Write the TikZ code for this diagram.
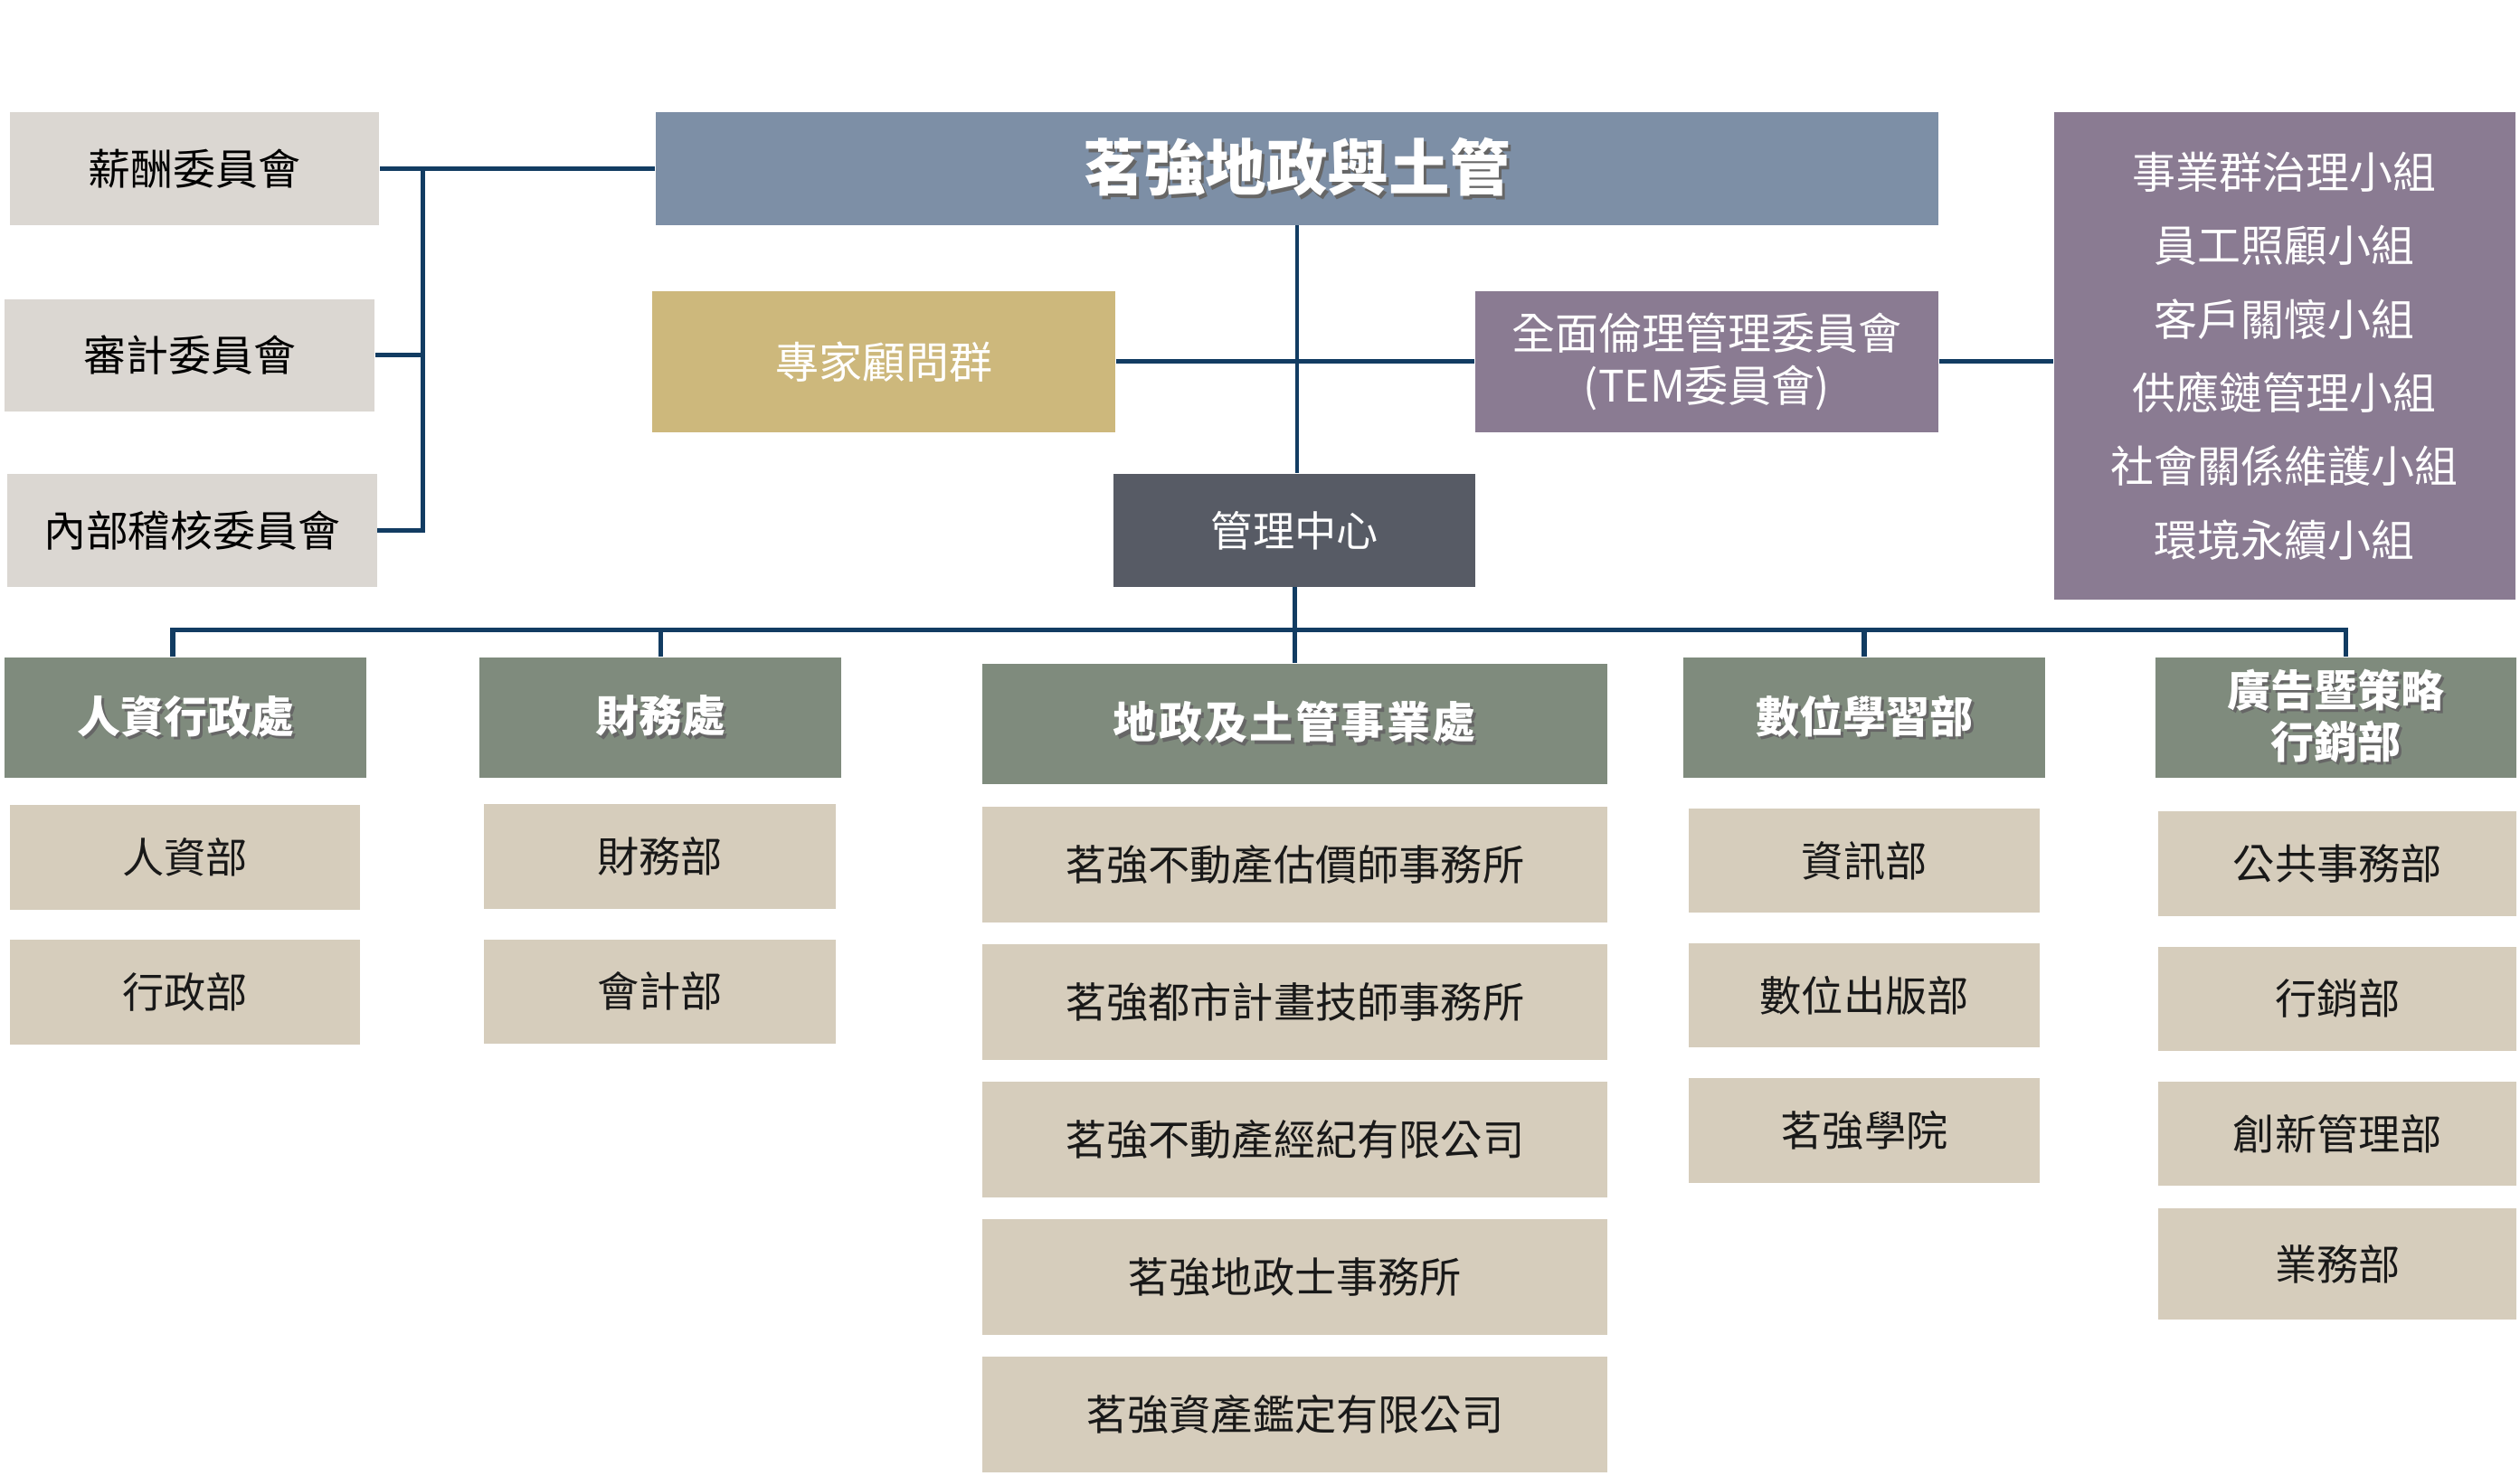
\documentclass[tikz,border=0pt]{standalone}
\usepackage{fontspec}
\usepackage{tikz}
\usetikzlibrary{positioning}

\newfontfamily\cjk{Noto Sans CJK TC}
\newfontfamily\cjkwide[LetterSpace=5]{Noto Sans CJK TC}

\definecolor{topblue}{HTML}{7D8FA6}
\definecolor{expertgold}{HTML}{CDB87C}
\definecolor{ethicpurple}{HTML}{8A7B92}
\definecolor{centergray}{HTML}{575B65}
\definecolor{headgreen}{HTML}{7F8B7D}
\definecolor{unitbeige}{HTML}{D6CDBC}
\definecolor{committeegray}{HTML}{DBD7D2}
\definecolor{linenavy}{HTML}{123C62}

% white bold text with a dark drop shadow
\newcommand{\shtxt}[1]{\makebox[0pt][l]{\hspace{0.9pt}\raisebox{-0.9pt}{\textcolor{black!60}{#1}}}#1}

\begin{document}
\begin{tikzpicture}[x=0.5pt, y=-0.5pt, node distance=42pt,
  box/.style={rectangle, inner sep=0pt, align=center, font=\cjk\fontsize{13}{16}\selectfont},
  committee/.style={box, fill=committeegray, minimum width=115pt, minimum height=35pt, font=\cjk\fontsize{13.2}{16}\selectfont},
  head/.style={box, fill=headgreen, text=white, minimum width=112.5pt, minimum height=37.5pt, font=\cjk\bfseries\fontsize{13.5}{16}\selectfont},
  unit/.style={box, fill=unitbeige, text=black!90, minimum width=109.5pt, minimum height=32.5pt},
  conn/.style={draw=linenavy, line width=1.5pt},
]
\fill[white] (0,0) rectangle (1568,918);
\useasboundingbox (0,0) rectangle (1568,918);

% committees on the left
\node[committee] (pay) at (121,105) {薪酬委員會};
\node[committee] (audit) at (118,221) {審計委員會};
\node[committee] (inner) at (119.5,330) {內部稽核委員會};

% top level
\node[box, fill=topblue, text=white, minimum width=399pt, minimum height=35pt, font=\cjk\bfseries\fontsize{19}{22}\selectfont] (top) at (807,105) {\shtxt{茗強地政與土管}};
\node[box, fill=expertgold, text=white, minimum width=144pt, minimum height=44pt, font=\cjk\fontsize{13.5}{16}\selectfont] (expert) at (550,225) {專家顧問群};
\node[box, fill=ethicpurple, text=white, minimum width=144pt, minimum height=44pt, font=\cjk\fontsize{13.5}{16.5}\selectfont] (tem) at (1062,225) {全面倫理管理委員會\\(TEM委員會)};
\node[box, fill=ethicpurple, text=white, minimum width=143.5pt, minimum height=151.5pt, font=\cjk\fontsize{13.5}{22.9}\selectfont] (groups) at (1421.5,221.5) {事業群治理小組\\員工照顧小組\\客戶關懷小組\\供應鏈管理小組\\社會關係維護小組\\環境永續小組};
\node[box, fill=centergray, text=white, minimum width=112.5pt, minimum height=35pt] (mgmt) at (805.5,330) {管理中心};

% divisions
\node[head] (hr) at (115.5,446.5) {\shtxt{人資行政處}};
\node[head] (fin) at (411,446.5) {\shtxt{財務處}};
\node[head, minimum width=194.5pt, font=\cjkwide\bfseries\fontsize{13.5}{16}\selectfont] (land) at (805.5,450.5) {\shtxt{地政及土管事業處}};
\node[head] (digi) at (1160,446.5) {\shtxt{數位學習部}};
\node[head] (adv) at (1453.5,446.5) {\shtxt{廣告暨策略}\\\shtxt{行銷部}};

% departments
\node[unit, minimum width=109pt] (hr1) at (115,533.5) {人資部};
\node[unit, minimum width=109pt, below of=hr1] (hr2) {行政部};

\node[unit] (fin1) at (410.5,533) {財務部};
\node[unit, below of=fin1] (fin2) {會計部};

\node[unit, minimum width=194.5pt, minimum height=36pt] (land1) at (805.5,538) {茗強不動產估價師事務所};
\node[unit, minimum width=194.5pt, minimum height=36pt, below of=land1, node distance=42.8pt] (land2) {茗強都市計畫技師事務所};
\node[unit, minimum width=194.5pt, minimum height=36pt, below of=land2, node distance=42.8pt] (land3) {茗強不動產經紀有限公司};
\node[unit, minimum width=194.5pt, minimum height=36pt, below of=land3, node distance=42.8pt] (land4) {茗強地政士事務所};
\node[unit, minimum width=194.5pt, minimum height=36pt, below of=land4, node distance=42.8pt] (land5) {茗強資產鑑定有限公司};

\node[unit, minimum width=109pt] (digi1) at (1160,535.5) {資訊部};
\node[unit, minimum width=109pt, below of=digi1] (digi2) {數位出版部};
\node[unit, minimum width=109pt, below of=digi2] (digi3) {茗強學院};

\node[unit, minimum width=111.5pt] (adv1) at (1454.5,537.5) {公共事務部};
\node[unit, minimum width=111.5pt, below of=adv1] (adv2) {行銷部};
\node[unit, minimum width=111.5pt, below of=adv2] (adv3) {創新管理部};
\node[unit, minimum width=111.5pt, minimum height=34.5pt, below of=adv3, node distance=40.5pt] (adv4) {業務部};

% connectors
\coordinate (brk) at (263,105);
\draw[conn] (pay.east) -- (top.west);
\draw[conn] (brk) |- (inner.east);
\draw[conn] (audit.east) -- (audit.east -| brk);
\draw[conn, line width=1pt] (top.south) -- (top.south |- mgmt.north);
\draw[conn] (expert.east) -- (tem.west);
\draw[conn] (tem.east) -- (tem.east -| groups.west);

\coordinate (bus) at (0,392);
\draw[conn] ([xshift=-4pt]hr.north) -- ([xshift=-4pt]hr.north |- bus) -- ([xshift=3pt]adv.north |- bus) -- ([xshift=3pt]adv.north);
\foreach \d in {fin,digi}
  \draw[conn] (\d.north) -- (\d.north |- bus);
\draw[conn] (mgmt.south) -- (land.north);
\end{tikzpicture}
\end{document}
